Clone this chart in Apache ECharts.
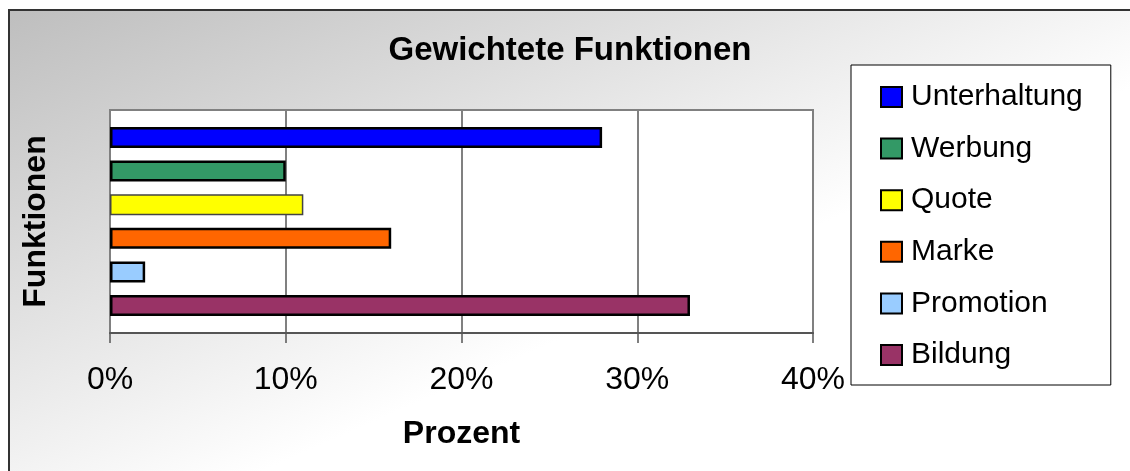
<!DOCTYPE html>
<html>
<head>
<meta charset="utf-8">
<script src="https://cdn.jsdelivr.net/npm/echarts@6/dist/echarts.min.js"></script>
<style>
  html, body { margin: 0; padding: 0; background: #fff; }
  #chart { width: 1130px; height: 471px; }
</style>
</head>
<body>
<div id="chart"></div>
<script>
// one category, six series (like the original office chart)
var categories = ["Funktionen"];
var seriesNames = ["Unterhaltung", "Werbung", "Quote", "Marke", "Promotion", "Bildung"];
var seriesValues = [28, 10, 11, 16, 2, 33];
var xTicks = [0, 10, 20, 30, 40];

var barColors = ["#0000ff", "#339966", "#ffff00", "#ff6600", "#99ccff", "#993366"];
var font = "'Liberation Sans', Arial, sans-serif";

var myChart = echarts.init(document.getElementById("chart"));

var series = [];
for (var i = 0; i < seriesNames.length; i++) {
  series.push({
    name: seriesNames[i],
    type: "bar",
    data: [seriesValues[i]],
    barWidth: 21,
    barGap: "60%",
    itemStyle: {
      color: barColors[i],
      borderColor: i == 2 ? "#444" : "#000",
      borderWidth: i == 2 ? 1.5 : 2.5,
    },
  });
}

var option = {
  animation: false,
  graphic: [
    {
      type: "rect",
      silent: true,
      z: -100,
      shape: { x: 9, y: 10, width: 1140, height: 480 },
      style: {
        fill: {
          type: "linear",
          global: true,
          x: 8, y: 10, x2: 220, y2: 490,
          colorStops: [
            { offset: 0, color: "#bebebe" },
            { offset: 1, color: "#ffffff" },
          ],
        },
        stroke: "#333",
        lineWidth: 2,
      },
    },
  ],
  title: {
    text: "Gewichtete Funktionen",
    left: 570,
    top: 34,
    textAlign: "center",
    padding: 0,
    textStyle: {
      fontFamily: font,
      fontSize: 33,
      fontWeight: "bold",
      color: "#000",
      lineHeight: 33,
    },
  },
  legend: {
    orient: "vertical",
    left: 851,
    top: 65,
    data: seriesNames,
    icon: "rect",
    itemWidth: 21,
    itemHeight: 20,
    itemGap: 21.6,
    padding: [17, 28, 15, 29],
    backgroundColor: "#fff",
    borderColor: "#000",
    borderWidth: 1,
    itemStyle: { borderColor: "#000", borderWidth: 2 },
    textStyle: {
      fontFamily: font,
      fontSize: 30,
      lineHeight: 30,
      color: "#000",
      padding: [0, 0, 0, 4],
    },
  },
  grid: {
    left: 110,
    right: 317,
    top: 110,
    bottom: 138,
    show: true,
    backgroundColor: "#fff",
    borderColor: "#808080",
    borderWidth: 2,
  },
  xAxis: {
    type: "value",
    min: xTicks[0],
    max: xTicks[xTicks.length - 1],
    interval: xTicks[1] - xTicks[0],
    name: "Prozent",
    nameLocation: "middle",
    nameGap: 85,
    nameTextStyle: {
      fontFamily: font,
      fontSize: 32,
      fontWeight: "bold",
      color: "#000",
    },
    axisLine: { show: true, lineStyle: { color: "#555", width: 2 } },
    axisTick: { show: true, length: 10, lineStyle: { color: "#555", width: 1.5 } },
    axisLabel: {
      fontFamily: font,
      fontSize: 32,
      color: "#000",
      margin: 31,
      formatter: "{value}%",
    },
    splitLine: { show: true, lineStyle: { color: "#808080", width: 2 } },
  },
  yAxis: {
    type: "category",
    data: categories,
    inverse: true,
    name: "Funktionen",
    nameLocation: "middle",
    nameRotate: 90,
    nameGap: 58,
    nameTextStyle: {
      fontFamily: font,
      fontSize: 32,
      fontWeight: "bold",
      color: "#000",
    },
    axisLine: { show: false },
    axisTick: { show: false },
    axisLabel: { show: false },
    splitLine: { show: false },
  },
  series: series,
};
myChart.setOption(option);
</script>
</body>
</html>
